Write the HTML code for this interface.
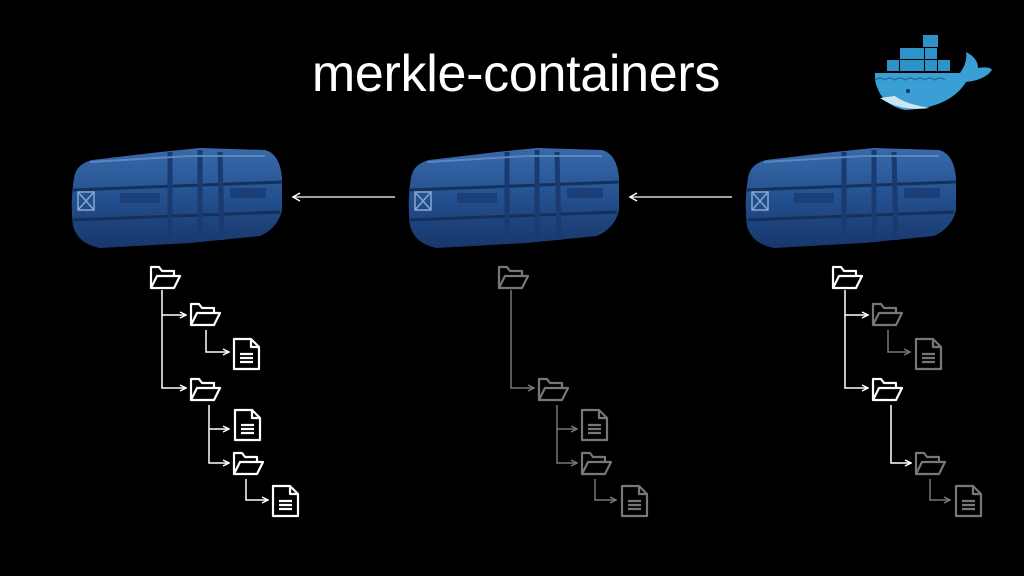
<!DOCTYPE html>
<html><head><meta charset="utf-8"><style>
html,body{margin:0;padding:0;background:#000;}
body{width:1024px;height:576px;overflow:hidden;position:relative;}
.t{position:absolute;left:0;width:1032px;top:44px;text-align:center;color:#fff;font-family:"Liberation Sans",sans-serif;font-size:52px;font-weight:300;letter-spacing:-0.3px;}
</style></head><body>
<div class="t">merkle-containers</div>
<svg width="1024" height="576" style="position:absolute;left:0;top:0">
<defs>
<linearGradient id="cg" x1="0" y1="0" x2="0" y2="1">
<stop offset="0" stop-color="#3a6aaa"/><stop offset="0.5" stop-color="#23508f"/><stop offset="1" stop-color="#17376a"/></linearGradient>
<g id="cap">
<path d="M4,30 Q6,16 22,12 L90,4 L130,0 L195,2 Q210,6 212,30 L212,62 Q208,80 190,88 L120,95 L30,100 Q8,96 3,78 Q0,55 4,30 Z" fill="url(#cg)"/>
<path d="M2,42 L212,34 M2,72 L210,64" stroke="#16305c" stroke-width="3" fill="none"/>
<path d="M100,4 L100,96 M130,2 L130,94 M150,4 L152,92" stroke="#1a3a70" stroke-width="5" fill="none"/>
<rect x="8" y="44" width="16" height="18" fill="none" stroke="#8aa6cf" stroke-width="1.5"/>
<path d="M8,44 L24,62 M24,44 L8,62" stroke="#8aa6cf" stroke-width="1.5"/>
<rect x="50" y="45" width="40" height="10" fill="#1c3f78"/>
<rect x="160" y="40" width="36" height="10" fill="#1c3f78"/>
<path d="M20,14 L120,8 L195,8" stroke="#5c86c0" stroke-width="2" fill="none"/>
</g>
<g id="fo" fill="none" stroke-width="2.2" stroke-linejoin="round">
<path d="M2,23 L2,2 L10,2 L13,6 L25,6 L25,11"/>
<path d="M2,23 L8,11 L31,11 L25,23 Z"/>
</g>
<g id="dc" fill="none" stroke-width="2.2" stroke-linejoin="round">
<path d="M1,1 L18,1 L26,9 L26,31 L1,31 Z"/>
<path d="M18,1 L18,9 L26,9"/>
<path d="M7,16 H20 M7,20 H20 M7,24 H20"/>
</g>
<marker id="ah" markerWidth="8" markerHeight="8" refX="7" refY="4" orient="auto" markerUnits="userSpaceOnUse"><path d="M1,1 L7,4 L1,7" fill="none" stroke="context-stroke" stroke-width="1.5"/></marker>
<marker id="aw" markerWidth="10" markerHeight="10" refX="8" refY="5" orient="auto" markerUnits="userSpaceOnUse"><path d="M1,1 L8,5 L1,9" fill="none" stroke="#fff" stroke-width="1.5"/></marker>
</defs>

<use href="#cap" x="70" y="148"/>
<use href="#cap" x="407" y="148"/>
<use href="#cap" x="744" y="148"/>
<line x1="395" y1="197" x2="293" y2="197" stroke="#fff" stroke-width="1.3" marker-end="url(#aw)"/>
<line x1="732" y1="197" x2="630" y2="197" stroke="#fff" stroke-width="1.3" marker-end="url(#aw)"/>

<g fill="#2d93c8">
<rect x="923" y="35" width="15" height="12"/>
<rect x="900" y="48" width="12" height="11"/><rect x="912" y="48" width="12" height="11"/><rect x="925" y="48" width="12" height="11"/>
<rect x="887" y="60" width="12" height="11"/><rect x="900" y="60" width="12" height="11"/><rect x="912" y="60" width="12" height="11"/><rect x="925" y="60" width="12" height="11"/><rect x="938" y="60" width="12" height="11"/>
<path d="M875,73 L960,73 Q968,62 966,52 Q978,58 978,68 Q990,66 992,70 Q985,80 966,82 Q950,108 905,110 Q880,105 875,80 Z" fill="#3a9fd4"/>
</g>
<path d="M880,98 Q900,112 930,108 Q905,104 895,96 Z" fill="#cfe6f2"/>
<circle cx="908" cy="91" r="2" fill="#0b3550"/>
<path d="M875,80 q5,-4 10,0 q5,-4 10,0 q5,-4 10,0 q5,-4 10,0 q5,-4 10,0 q5,-4 10,0 q5,-4 10,0" fill="none" stroke="#1b6f9c" stroke-width="1.2"/>

<g stroke="#fff" stroke-width="1.5" fill="none">
<path d="M162,290 V388 H186" marker-end="url(#ah)"/>
<path d="M162,315 H186" marker-end="url(#ah)"/>
<path d="M206,330 V352 H229" marker-end="url(#ah)"/>
<path d="M209,405 V463 H229" marker-end="url(#ah)"/>
<path d="M209,429 H229" marker-end="url(#ah)"/>
<path d="M246,479 V500 H268" marker-end="url(#ah)"/>
</g>
<g stroke="#fff"><use href="#fo" x="149" y="265"/><use href="#fo" x="189" y="302"/><use href="#fo" x="189" y="377"/><use href="#fo" x="232" y="451"/>
<use href="#dc" x="233" y="338"/><use href="#dc" x="234" y="409"/><use href="#dc" x="272" y="485"/></g>

<g stroke="#777" stroke-width="1.5" fill="none">
<path d="M511,290 V388 H534" marker-end="url(#ah)"/>
<path d="M557,405 V463 H577" marker-end="url(#ah)"/>
<path d="M557,429 H577" marker-end="url(#ah)"/>
<path d="M595,479 V500 H616" marker-end="url(#ah)"/>
</g>
<g stroke="#777"><use href="#fo" x="497" y="265"/><use href="#fo" x="537" y="377"/><use href="#fo" x="580" y="451"/>
<use href="#dc" x="581" y="409"/><use href="#dc" x="621" y="485"/></g>

<g stroke-width="1.5" fill="none">
<path d="M845,290 V388 H868" stroke="#fff" marker-end="url(#ah)"/>
<path d="M845,315 H868" stroke="#fff" marker-end="url(#ah)"/>
<path d="M888,330 V352 H910" stroke="#777" marker-end="url(#ah)"/>
<path d="M891,405 V463 H911" stroke="#fff" marker-end="url(#ah)"/>
<path d="M930,479 V500 H950" stroke="#777" marker-end="url(#ah)"/>
</g>
<g stroke="#fff"><use href="#fo" x="831" y="265"/><use href="#fo" x="871" y="377"/></g>
<g stroke="#777"><use href="#fo" x="871" y="302"/><use href="#fo" x="914" y="451"/>
<use href="#dc" x="915" y="338"/><use href="#dc" x="955" y="485"/></g>
</svg>
</body></html>
